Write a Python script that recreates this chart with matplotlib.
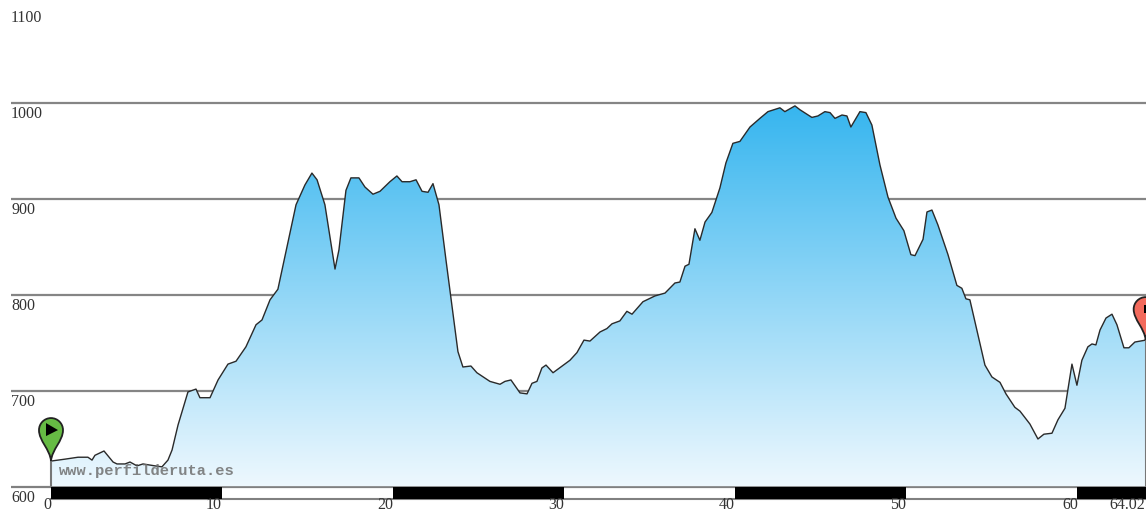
import numpy as np
import matplotlib
matplotlib.use("Agg")
import matplotlib.pyplot as plt
from matplotlib.path import Path
from matplotlib.patches import PathPatch, Polygon
from matplotlib.transforms import Affine2D
from matplotlib.colors import LinearSegmentedColormap

km = [0, .82, 1.58, 2.16, 2.40, 2.57, 3.10, 3.63, 3.86, 4.33, 4.62, 5.03, 5.38, 6.08, 6.49, 6.84,
      7.08, 7.43, 8.01, 8.48, 8.71, 9.30, 9.77, 10.35, 10.82, 11.40, 11.99, 12.34, 12.81, 13.27,
      14.33, 14.85, 15.26, 15.56, 16.02, 16.61, 16.84, 17.25, 17.54, 18.01, 18.36, 18.83, 19.24,
      19.82, 20.23, 20.53, 20.99, 21.35, 21.70, 22.05, 22.34, 22.69, 23.10, 23.80, 24.09, 24.56,
      24.91, 25.67, 26.26, 26.55, 26.90, 27.43, 27.84, 28.13, 28.42, 28.71, 28.95, 29.36, 30.35,
      30.76, 31.17, 31.52, 32.11, 32.51, 32.81, 33.27, 33.68, 33.98, 34.62, 35.32, 35.91, 36.49,
      36.78, 37.08, 37.31, 37.66, 37.95, 38.25, 38.65, 39.12, 39.47, 39.88, 40.29, 40.88, 41.46,
      41.93, 42.63, 42.92, 43.51, 43.80, 44.50, 44.85, 45.26, 45.56, 45.85, 46.26, 46.55, 46.78,
      47.31, 47.66, 48.01, 48.48, 48.95, 49.42, 49.88, 50.29, 50.53, 51.0, 51.23, 51.52, 51.87,
      52.46, 52.98, 53.27, 53.51, 53.74, 54.15, 54.62, 55.03, 55.5, 55.85, 56.37, 56.67, 57.25,
      57.72, 58.07, 58.54, 58.89, 59.3, 59.71, 60.0, 60.29, 60.64, 60.88, 61.11, 61.35, 61.7,
      62.05, 62.34, 62.75, 63.04, 63.39, 64.02]
elev = [627, 629, 631, 631, 628, 633, 637.5, 626, 624, 624, 626, 622, 624, 622, 621, 628,
        638.5, 664.6, 699, 702, 693, 693, 711.5, 728, 731, 746, 769, 774, 795, 806,
        894, 914.6, 927, 920, 894, 827, 847, 909, 922, 922, 912.5, 905, 908,
        918, 924, 918, 918, 920, 908, 907, 916, 894, 836.5, 741, 725, 726,
        719, 710, 707, 710, 711.5, 698, 697, 708, 710, 724, 727, 719, 732,
        740, 753, 752, 761.5, 765, 770, 773, 783, 780, 793, 799, 802, 812.5,
        813.5, 830, 832, 869, 857, 876, 886, 911.5, 937.5, 958, 960, 975, 984,
        991, 995, 991, 997, 993, 985, 986.5, 991, 990, 984, 987.5, 986.5, 975,
        991, 990, 977, 935.5, 902, 880, 867, 842, 841, 858, 886.5, 888.5, 873,
        842, 810, 807, 796, 795, 763.5, 727, 714.6, 709, 697, 683, 679, 665.6,
        650, 655, 656, 670, 682, 728, 706, 732, 746, 749, 748, 763.5, 776,
        780, 769, 745, 745, 751, 753]

y_ticks = [600, 700, 800, 900, 1000, 1100]
x_ticks = [0, 10, 20, 30, 40, 50, 60, 64.02]
x_tick_px_shift = [-8, -16, -16, -16, -16, -16, -15, -36]
total_km = 64.02

fig = plt.figure(figsize=(11.46, 5.13), dpi=100)
ax = fig.add_axes([11 / 1146, 0, 1135 / 1146, 1])
ax.axis("off")

# grid, behind the profile
for v in y_ticks[:-1]:
    ax.plot([-2.339, 64.04], [v, v], color="#858585", lw=1.6, zorder=1, solid_capstyle="butt")

# gradient fill clipped to the profile
cmap = LinearSegmentedColormap.from_list("prof", ["#eef8fe", "#35b5ef"])
grad = np.linspace(0, 1, 256).reshape(-1, 1)
im = ax.imshow(grad, extent=[0, total_km, 600, 1000], origin="lower", cmap=cmap, aspect="auto", zorder=2)
poly = Polygon(list(zip(km, elev)) + [(total_km, 600), (0, 600)], closed=True, transform=ax.transData,
               fc="none", ec="none")
ax.add_patch(poly)
im.set_clip_path(poly)
ax.set_xlim(-2.339, 64.04)
ax.set_ylim(572.9, 1107.3)

ax.plot(km, elev, color="#2a2a2a", lw=1.0, zorder=3)
ax.plot([0, 0], [600, elev[0]], color="#777777", lw=1.5, zorder=3)
ax.plot([total_km, total_km], [600, elev[-1]], color="#777777", lw=1.5, zorder=3)
ax.plot([-2.339, 64.04], [600, 600], color="#808080", lw=1.2, zorder=4)

# km scale bar
bar_bottom = 600 - 12.5
ax.plot([0, total_km], [bar_bottom, bar_bottom], color="#808080", lw=1.5, zorder=4)
for start in range(0, 70, 20):
    ax.fill_between([start, min(start + 10, total_km)], bar_bottom, 600, color="black", lw=0, zorder=5)

ax.text(0.46, 616.5, "www.perfilderuta.es", family="Liberation Mono", fontsize=11.1, color="#707070",
        fontweight="bold", va="center", ha="left", alpha=.85, zorder=6)

serif = "Liberation Serif"
for v in y_ticks:
    ax.text(-2.339, v - 11, str(v), family=serif, fontsize=11.5, color="#333333", va="center", ha="left")
for v, s in zip(x_ticks, x_tick_px_shift):
    ax.annotate(f"{v:g}", (v, bar_bottom), xytext=(s * .72, -4.5), textcoords="offset points", family=serif,
                fontsize=11.5, color="#333333", va="center", ha="left", annotation_clip=False, zorder=7)


def pin(x, y, face):
    # teardrop marker in pixels, tip on the data point
    px, py = ax.transData.transform((x, y))
    verts = [(0, 0), (-1, 12), (-12, 20), (-12, 31), (-12, 37.6), (-6.6, 43), (0, 43),
             (6.6, 43), (12, 37.6), (12, 31), (12, 20), (1, 12), (0, 0)]
    codes = [Path.MOVETO] + [Path.CURVE4] * 12
    tr = Affine2D().translate(px, py)
    ax.add_patch(PathPatch(Path(verts, codes), fc=face, ec="#222222", lw=1.3, transform=tr, clip_on=False, zorder=8))
    return tr


tr = pin(km[0], elev[0], "#66bb44")
ax.add_patch(Polygon([(-5, 25), (-5, 38), (7, 31)], closed=True, fc="black", ec="none", transform=tr,
                     clip_on=False, zorder=9))
tr = pin(total_km, elev[-1], "#f26a5c")
ax.add_patch(Polygon([(-2, 27), (-2, 35), (3, 35), (3, 27)], closed=True, fc="black", ec="none", transform=tr,
                     clip_on=False, zorder=9))

fig.savefig("out.png", dpi=100)
